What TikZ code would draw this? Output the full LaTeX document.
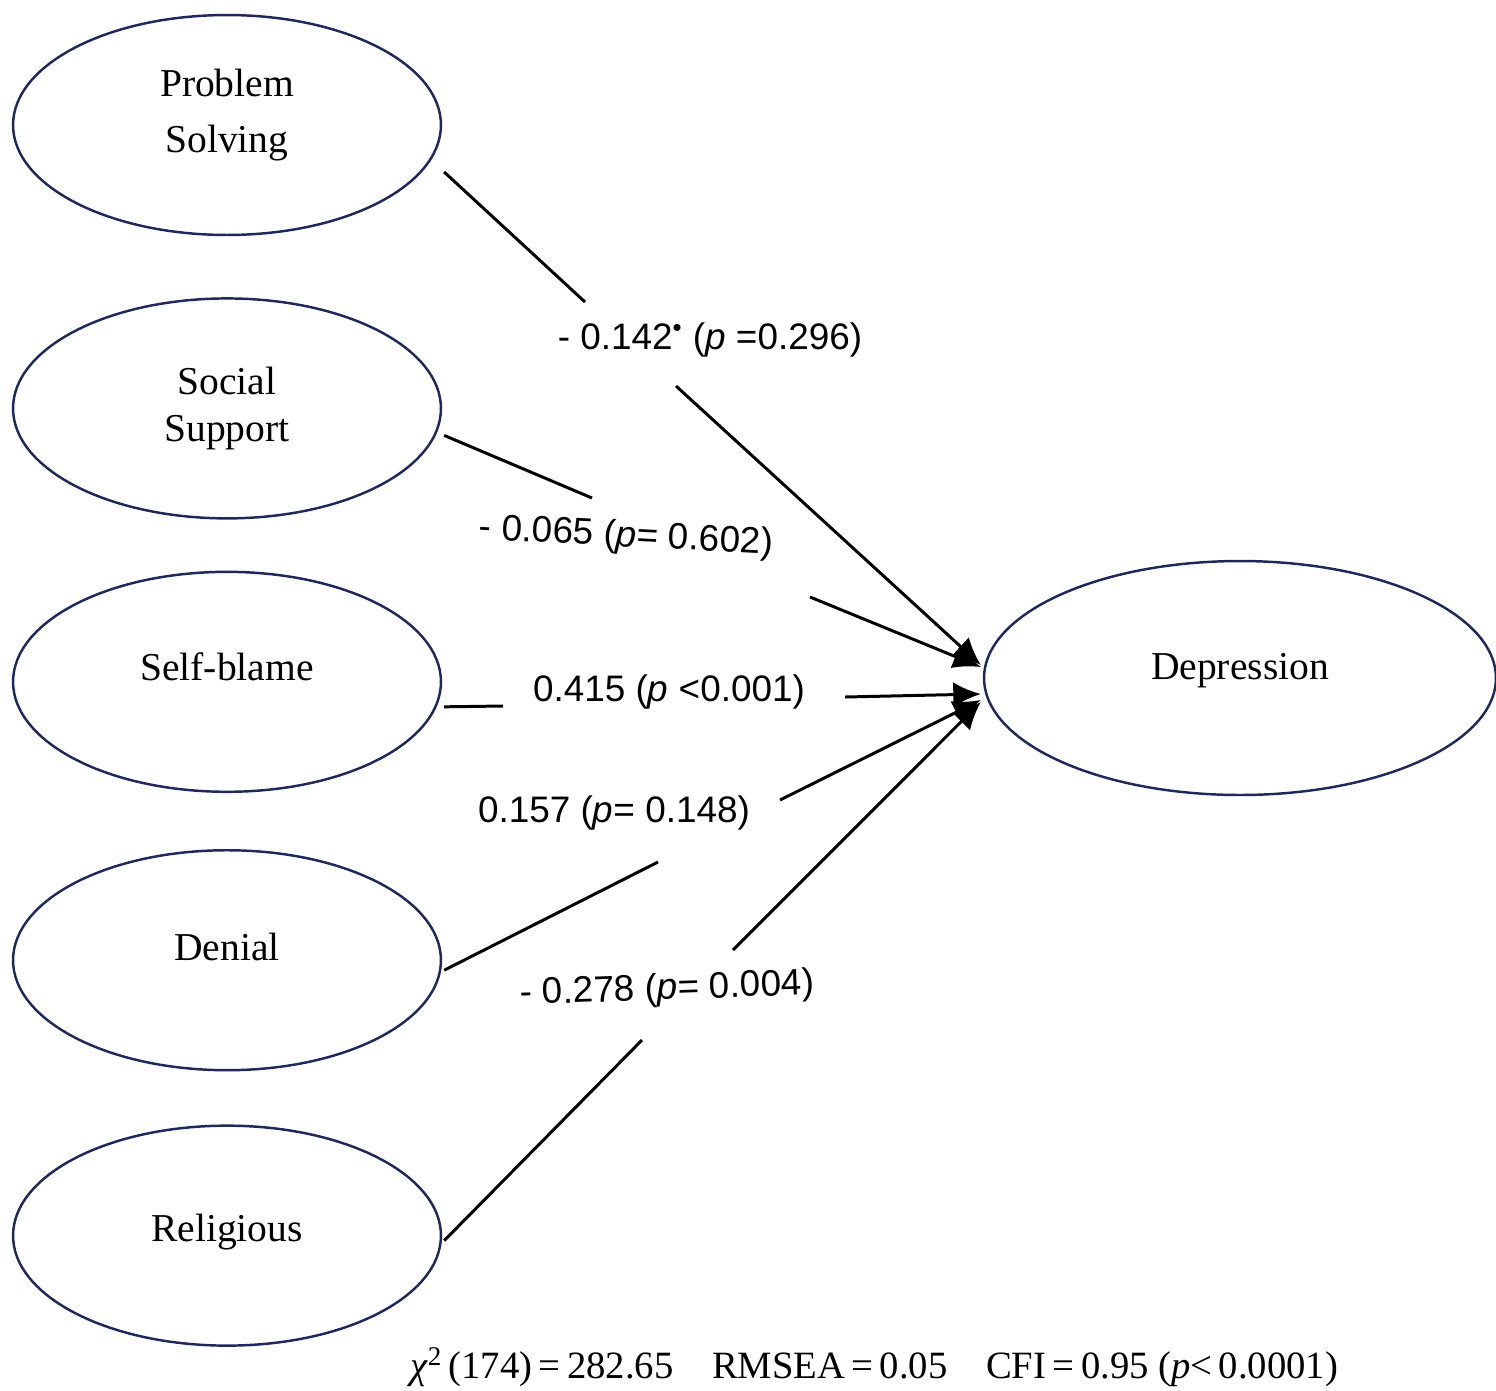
\documentclass[tikz,border=0pt]{standalone}
\usepackage{fontspec}
\setmainfont{Liberation Serif}
\newfontfamily\coeffont{Liberation Sans}
\usetikzlibrary{arrows.meta,positioning,shapes.geometric,calc}
\definecolor{ovalblue}{RGB}{30,40,92}

\begin{document}
\begin{tikzpicture}[x=0.02cm, y=-0.02cm,
  factor/.style={draw=ovalblue, ellipse, line width=1.4pt, minimum width=8.56cm, minimum height=4.4cm, align=center, font=\fontsize{22.5}{27}\selectfont},
  coef/.style={font=\coeffont\fontsize{21}{25}\selectfont, inner sep=2pt},
  link/.style={line width=1.7pt},
  arr/.style={-{Latex[length=5.5mm,width=5mm]}, line width=1.7pt}
]

\useasboundingbox (0,0) rectangle (1496,1390);

% Coping factors
\node[factor, text depth=16pt] (ps) at (227,125) {Problem\\[5pt]Solving};
\node[factor, below=1.22cm of ps] (ss) {Social\\Support};
\node[factor, text depth=17pt, below=1.02cm of ss] (sb) {Self-blame};
\node[factor, text depth=15pt, below=1.12cm of sb] (den) {Denial};
\node[factor, text depth=9.5pt, below=1.06cm of den] (rel) {Religious};

\node[factor, text depth=13pt, minimum width=10.24cm, minimum height=4.68cm] (dep) at (1240,678) {Depression};

% Path coefficients
\node[coef] (c-ps) at (710,340) {- 0.142\textsuperscript{\textbullet} (\textit{p} =0.296)};
\node[coef, rotate=-3] (c-ss) at (626,537) {- 0.065 (\textit{p}= 0.602)};
\node[coef] (c-sb) at (669,692) {0.415 (\textit{p} <0.001)};
\node[coef] (c-den) at (614,813) {0.157 (\textit{p}= 0.148)};
\node[coef, rotate=2] (c-rel) at (667,990) {- 0.278 (\textit{p}= 0.004)};

% Gaps round the coefficients
\coordinate (ps-a) at (585,302);  \coordinate (ps-b) at (676,386);
\coordinate (ss-a) at (592,498);  \coordinate (ss-b) at (810,597);
\coordinate (sb-a) at (503,706);  \coordinate (sb-b) at (845,697);
\coordinate (den-a) at (658,862); \coordinate (den-b) at (780,800);
\coordinate (rel-a) at (642,1040); \coordinate (rel-b) at (733,950);

\draw[link] ($(ps.east)+(2,47)$) -- (ps-a);
\draw[arr] (ps-b) -- ($(dep.west)+(-2,-13)$);
\draw[link] ($(ss.east)+(2,27)$) -- (ss-a);
\draw[arr] (ss-b) -- ($(dep.west)+(-2,-11)$);
\draw[link] ($(sb.east)+(2,25)$) -- (sb-a);
\draw[arr] (sb-b) -- ($(dep.west)+(-2,16)$);
\draw[link] ($(den.east)+(2,10)$) -- (den-a);
\draw[arr] (den-b) -- ($(dep.west)+(-2,22)$);
\draw[link] ($(rel.east)+(2,5)$) -- (rel-a);
\draw[arr] (rel-b) -- ($(dep.west)+(-2,24)$);

% Fit indices
\node[font=\fontsize{22}{26}\selectfont] (fit) at (874,1367) {\textit{χ}\textsuperscript{2}\,(174)\,=\,282.65\quad RMSEA\,=\,0.05\quad CFI\,=\,0.95 (\textit{p}<\,0.0001)};

\end{tikzpicture}
\end{document}
